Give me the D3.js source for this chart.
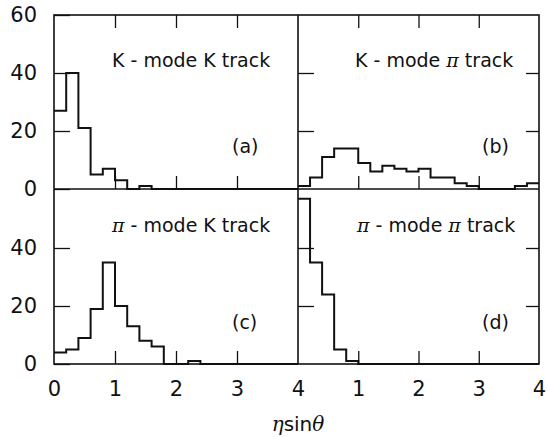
<!DOCTYPE html>
<html lang="en">
    <head>
        <meta charset="utf-8">
        <title>eta sin theta</title>
        <script type="text/javascript" src="https://d3js.org/d3.v7.min.js"></script>
        <style>
            body { margin: 0; background: white; }
            text { font-family: "DejaVu Sans", sans-serif; fill: #111; }
            .tick text { font-size: 21px; }
            .tick line { stroke: #111; stroke-width: 1.3; }
            .frame { fill: none; stroke: #111; stroke-width: 1.6; }
            .hist { fill: none; stroke: #111; stroke-width: 2; }
            .label { font-size: 19px; }
        </style>
    </head>
    <body>
        <div id="chart"></div>
        <script type="text/javascript">
            //bin edges 0, 0.2, ... 4.0
            let binWidth = 0.2;
            let kModeKTrack = [27, 40, 21, 5, 7, 3, 0, 1, 0, 0, 0, 0, 0, 0, 0, 0, 0, 0, 0, 0];
            let kModePiTrack = [1, 4, 11, 14, 14, 9, 6, 8, 7, 6, 7, 4, 4, 2, 1, 0, 0, 0, 1, 2];
            let piModeKTrack = [4, 5, 9, 19, 35, 20, 13, 8, 6, 0, 0, 1, 0, 0, 0, 0, 0, 0, 0, 0];
            let piModePiTrack = [57, 35, 24, 5, 1, 0, 0, 0, 0, 0, 0, 0, 0, 0, 0, 0, 0, 0, 0, 0];
            let panelTitles = ["K - mode K track", "K - mode \u03c0 track", "\u03c0 - mode K track", "\u03c0 - mode \u03c0 track"];
            let panelTags = ["(a)", "(b)", "(c)", "(d)"];
            let leftXTicks = [0, 1, 2, 3, 4];
            let rightXTicks = [1, 2, 3, 4];
            let topYTicks = [0, 20, 40, 60];
            let bottomYTicks = [0, 20, 40];

            let w = 548, h = 437;
            let leftEdge = 54, midX = 298, rightEdge = 539;
            let topEdge = 15, midY = 189, bottomEdge = 364;

            let svg = d3.select("#chart").append("svg")
                        .attr("width", w)
                        .attr("height", h);

            let xLeft = d3.scaleLinear().domain([0, 4]).range([leftEdge, midX]);
            let xRight = d3.scaleLinear().domain([0, 4]).range([midX, rightEdge]);
            let yTop = d3.scaleLinear().domain([0, 60]).range([midY, topEdge]);
            let yBottom = d3.scaleLinear().domain([0, 60]).range([bottomEdge, midY + 1]);
            let intFormat = d3.format("d");

            let panels = [
                {data: kModeKTrack, x: xLeft, y: yTop},
                {data: kModePiTrack, x: xRight, y: yTop},
                {data: piModeKTrack, x: xLeft, y: yBottom},
                {data: piModePiTrack, x: xRight, y: yBottom}
            ];

            //histograms as step lines
            panels.forEach(p => {
                let pts = p.data.map((v, k) => [k * binWidth, v]);
                pts.push([4, p.data[p.data.length - 1]]);
                let stepLine = d3.line()
                            .x(d => p.x(d[0]))
                            .y(d => p.y(d[1]))
                            .curve(d3.curveStepAfter);
                svg.append("path")
                    .attr("class", "hist")
                    .attr("d", stepLine(pts));
            });

            //x ticks: top panels get ticks at top and at baseline, bottom panels at bottom
            const xTickAxis = (scale, y, dir, values) => {
                let ax = (dir === "up" ? d3.axisBottom(scale) : d3.axisTop(scale))
                            .tickValues(values)
                            .tickSizeInner(-13)
                            .tickSizeOuter(0)
                            .tickFormat("");
                let g = svg.append("g")
                            .attr("transform", `translate(0, ${y})`)
                            .call(ax);
                g.select(".domain").remove();
            };
            xTickAxis(xLeft, topEdge, "down", [1, 2, 3]);
            xTickAxis(xRight, topEdge, "down", [1, 2, 3]);
            xTickAxis(xLeft, midY, "up", [1, 2, 3]);
            xTickAxis(xRight, midY, "up", [1, 2, 3]);
            xTickAxis(xLeft, bottomEdge, "up", [1, 2, 3]);
            xTickAxis(xRight, bottomEdge, "up", [1, 2, 3]);

            //x tick labels
            [[xLeft, leftXTicks], [xRight, rightXTicks]].forEach(([sc, vals]) => {
                let g = svg.append("g")
                            .attr("transform", `translate(0, ${bottomEdge})`)
                            .call(d3.axisBottom(sc).tickValues(vals).tickFormat(intFormat).tickSize(0).tickPadding(17));
                g.select(".domain").remove();
            });

            //y axes with labels on the left
            [[yTop, topYTicks], [yBottom, bottomYTicks]].forEach(([sc, vals]) => {
                let g = svg.append("g")
                            .attr("transform", `translate(${leftEdge}, 0)`)
                            .call(d3.axisLeft(sc).tickValues(vals).tickFormat(intFormat).tickSizeInner(-16).tickSizeOuter(0).tickPadding(17));
                g.select(".domain").remove();
            });

            //y ticks on divider and right edge
            [yTop, yBottom].forEach(sc => {
                let g1 = svg.append("g")
                            .attr("transform", `translate(${midX}, 0)`)
                            .call(d3.axisLeft(sc).tickValues([20, 40]).tickSizeInner(-16).tickSizeOuter(0).tickFormat(""));
                g1.select(".domain").remove();
                let g2 = svg.append("g")
                            .attr("transform", `translate(${rightEdge}, 0)`)
                            .call(d3.axisRight(sc).tickValues([20, 40]).tickSizeInner(-13).tickSizeOuter(0).tickFormat(""));
                g2.select(".domain").remove();
            });

            //frame
            svg.append("rect")
                .attr("class", "frame")
                .attr("x", leftEdge)
                .attr("y", topEdge)
                .attr("width", rightEdge - leftEdge)
                .attr("height", bottomEdge - topEdge);
            svg.append("line").attr("class", "frame")
                .attr("x1", midX).attr("x2", midX).attr("y1", topEdge).attr("y2", bottomEdge);
            svg.append("line").attr("class", "frame")
                .attr("x1", leftEdge).attr("x2", rightEdge).attr("y1", midY).attr("y2", midY);

            //panel titles with italic pi
            let titlePos = [[112, 67], [355, 67], [112, 232], [357, 232]];
            let tagPos = [[232, 153], [482, 153], [232, 329], [482, 329]];
            panelTitles.forEach((t, i) => {
                let txt = svg.append("text")
                            .attr("class", "label")
                            .attr("x", titlePos[i][0])
                            .attr("y", titlePos[i][1]);
                t.split(/(\u03c0)/).forEach(part => {
                    if (part === "") return;
                    let ts = txt.append("tspan").text(part);
                    if (part === "\u03c0") {
                        ts.style("font-style", "italic").style("font-family", "'DejaVu Serif', serif");
                    }
                });
                svg.append("text")
                    .attr("class", "label")
                    .attr("x", tagPos[i][0])
                    .attr("y", tagPos[i][1])
                    .text(panelTags[i]);
            });

            //axis title
            let xt = svg.append("text")
                        .attr("x", midX)
                        .attr("y", 431)
                        .attr("text-anchor", "middle")
                        .style("font-size", "20px");
            xt.append("tspan").style("font-style", "italic").style("font-family", "'DejaVu Serif', serif").text("\u03b7");
            xt.append("tspan").text("sin");
            xt.append("tspan").style("font-style", "italic").style("font-family", "'DejaVu Serif', serif").text("\u03b8");
        </script>
    </body>
</html>
